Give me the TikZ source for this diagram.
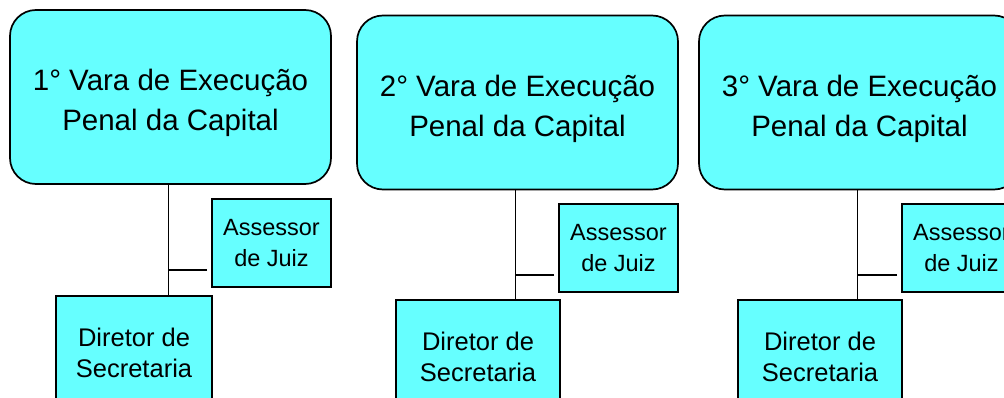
\documentclass[tikz,border=0pt]{standalone}
\usepackage{fontspec}
\setmainfont{Liberation Sans}
\usepackage{xcolor}
\usetikzlibrary{calc}
\definecolor{varacyan}{HTML}{66FFFF}
\newcommand{\varastrut}{\rule{0pt}{34pt}}

\begin{document}
\begin{tikzpicture}[
    x=1pt, y=-1pt,
    box/.style={rectangle, draw, line width=1.7pt, fill=varacyan,
                align=center, inner sep=0pt},
    vara/.style={box, rounded corners=26pt, minimum width=321pt, minimum height=174pt,
                 font=\fontsize{29.5}{40}\selectfont},
    ass/.style={box, minimum width=119pt, minimum height=88pt,
                font=\fontsize{23.5}{31.5}\selectfont},
    dir/.style={box, minimum width=164pt, minimum height=114pt,
                font=\fontsize{25.5}{31}\selectfont},
    lin/.style={line width=1.8pt},
]
\useasboundingbox (0,0) rectangle (1004,398);
\clip (0,0) rectangle (1004,398);
\fill[white] (0,0) rectangle (1004,398);

%% Coluna 1
\node[vara] (vara1) at (170.5,97) {\varastrut1° Vara de Execução\\Penal da Capital};
\node[ass]  (ass1)  at (271.5,243) {Assessor\\de Juiz};
\node[dir, minimum width=156pt] (dir1) at (134,353) {Diretor de\\Secretaria};

%% Coluna 2
\node[vara] (vara2) at (517.5,102.5) {\varastrut2° Vara de Execução\\Penal da Capital};
\node[ass]  (ass2)  at (618.5,248) {Assessor\\de Juiz};
\node[dir]  (dir2)  at (478,357) {Diretor de\\Secretaria};

%% Coluna 3
\node[vara] (vara3) at (859.5,102.5) {\varastrut3° Vara de Execução\\Penal da Capital};
\node[ass]  (ass3)  at (961.5,248) {Assessor\\de Juiz};
\node[dir]  (dir3)  at (820,357) {Diretor de\\Secretaria};

%% Ligações
\foreach \i in {1,2,3} {
  \coordinate (top\i) at ($(vara\i.south)+(-2,0)$);
  \coordinate (tip\i) at ($(ass\i.south west)+(-4,-18)$);
  \draw[lin] (top\i) -- (top\i |- dir\i.north);
  \draw[lin] (tip\i) -- (tip\i -| top\i);
}

\end{tikzpicture}
\end{document}
